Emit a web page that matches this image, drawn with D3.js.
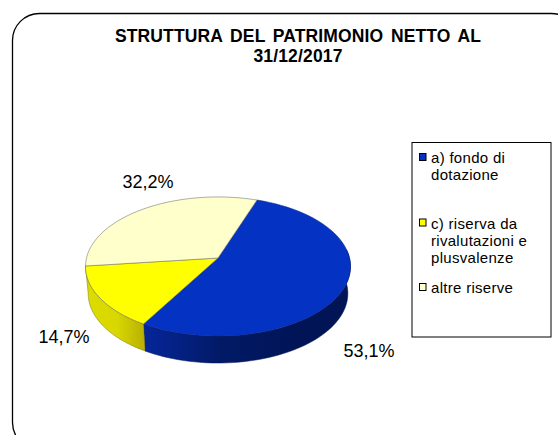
<!DOCTYPE html>
<html><head><meta charset="utf-8">
<script src="https://cdn.jsdelivr.net/npm/d3@7"></script>
<style>html,body{margin:0;padding:0;background:#fff}svg{display:block}text{font-family:"Liberation Sans",Arial,sans-serif;fill:#000}</style>
</head><body><svg id="c" width="558" height="435"></svg>
<script>
const categories = ["a) fondo di dotazione","c) riserva da rivalutazioni e plusvalenze","altre riserve"];
const values = [53.1,14.7,32.2];
const labels = ["53,1%","14,7%","32,2%"];
const colors = ["#0433c4","#ffff00","#ffffcc"];
const titleLines = ["STRUTTURA DEL PATRIMONIO NETTO AL","31/12/2017"];
const legendLines = [["a) fondo di","dotazione"],["c) riserva da","rivalutazioni e","plusvalenze"],["altre riserve"]];

const svg = d3.select("#c");
const defs = svg.append("defs");
const g1 = defs.append("linearGradient").attr("id","sideBlue").attr("gradientUnits","userSpaceOnUse").attr("x1",141).attr("x2",300).attr("y1",0).attr("y2",0);
g1.append("stop").attr("offset",0).attr("stop-color","#06269c");
g1.append("stop").attr("offset",.5).attr("stop-color","#021a66");
g1.append("stop").attr("offset",1).attr("stop-color","#001456");
const g2 = defs.append("linearGradient").attr("id","sideYellow").attr("gradientUnits","userSpaceOnUse").attr("x1",86).attr("x2",142).attr("y1",0).attr("y2",0);
g2.append("stop").attr("offset",0).attr("stop-color","#dcdc00");
g2.append("stop").attr("offset",.55).attr("stop-color","#d8d800");
g2.append("stop").attr("offset",1).attr("stop-color","#bcb400");

svg.append("rect").attr("x",12.5).attr("y",13.5).attr("width",566).attr("height",436).attr("rx",27).attr("ry",27)
  .attr("fill","none").attr("stroke","#000").attr("stroke-width",1.3);

svg.append("g").selectAll("text").data(titleLines).join("text")
  .attr("x",298).attr("y",(d,i)=>42+i*19.5).attr("text-anchor","middle")
  .attr("font-size",17.5).attr("font-weight","bold").attr("letter-spacing",.15).attr("word-spacing",2.5).text(d=>d);

const K=-0.122, A=68.5, B=131.5, X0=218, Y0=258, DEPTH=27, BS=0.98;
const topP = t=>{const u=Math.sin(t),v=-Math.cos(t),w=1+K*v;return [X0+B*u/w,Y0+A*v/w];};
const botP = t=>{const u=Math.sin(t),v=-Math.cos(t),w=1+K*v;return [X0+BS*B*u/w,Y0+DEPTH+A*v/w];};
const start = 19.3*Math.PI/180;
const pie = d3.pie().sort(null).startAngle(start).endAngle(start+2*Math.PI);
const arcs = pie(values);
const samples = (a,b)=>d3.range(0,61).map(i=>a+(b-a)*i/60);
const line = d3.line();
const FRONT_END = Math.PI*1.5+0.12;
const RIGHT_SIL = Math.PI*0.5-0.12;

[[0,"url(#sideBlue)"],[1,"url(#sideYellow)"]].forEach(([i,fill])=>{
  const a=Math.max(arcs[i].startAngle,RIGHT_SIL), b=Math.min(arcs[i].endAngle,FRONT_END);
  const ts=samples(a,b);
  const pts=ts.map(topP).concat(ts.slice().reverse().map(botP));
  svg.append("path").attr("d",line(pts)+"Z").attr("fill",fill).attr("stroke",i==0?"#00104a":"#77770a").attr("stroke-width",.5);
});

arcs.forEach((d,i)=>{
  const pts=[[X0,Y0]].concat(samples(d.startAngle,d.endAngle).map(topP));
  svg.append("path").attr("d",line(pts)+"Z").attr("fill",colors[i]).attr("stroke",i==0?"#0a2a90":"#77776a").attr("stroke-width",.6).attr("stroke-linejoin","round");
});

const labelPos=[[369,357],[64,343],[148,188]];
svg.append("g").selectAll("text").data(labels).join("text")
  .attr("x",(d,i)=>labelPos[i][0]).attr("y",(d,i)=>labelPos[i][1]).attr("text-anchor","middle")
  .attr("font-size",18).text(d=>d);

svg.append("rect").attr("x",412).attr("y",142.5).attr("width",139).attr("height",194.5).attr("fill","#fff").attr("stroke","#000").attr("stroke-width",1);
const legY=[158,223.5,288];
const leg=svg.append("g").selectAll("g").data(categories).join("g");
leg.append("rect").attr("x",419.5).attr("y",(d,i)=>legY[i]-4.5).attr("width",6.5).attr("height",7).attr("fill",(d,i)=>colors[i]).attr("stroke","#000").attr("stroke-width",1);
leg.each(function(d,i){
  d3.select(this).selectAll("text").data(legendLines[i]).join("text")
    .attr("x",431).attr("y",(t,j)=>legY[i]+5+j*17).attr("font-size",15).attr("letter-spacing",.3).text(t=>t);
});
</script></body></html>
